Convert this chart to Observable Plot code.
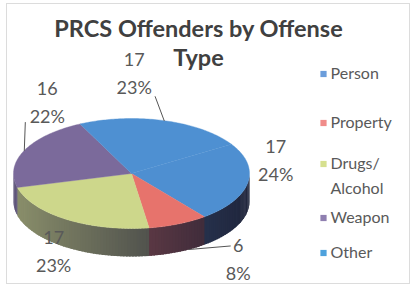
<!DOCTYPE html>
<html>
<head>
<meta charset="utf-8">
<script src="https://cdn.jsdelivr.net/npm/d3@7"></script>
<script src="https://cdn.jsdelivr.net/npm/@observablehq/plot@0.6"></script>
<style>
  html, body { margin: 0; padding: 0; background: #ffffff; }
  #chart svg { display: block; }
</style>
</head>
<body>
<div id="chart"></div>
<script>
// ---------------- data ----------------
const categories = ["Person", "Property", "Drugs/\nAlcohol", "Weapon", "Other"];
const values = [17, 6, 17, 16, 17];
const percentLabels = ["24%", "8%", "23%", "22%", "23%"];
const topColors = ["#4e8fd1", "#e7736c", "#cdd78b", "#7b6a9b", "#4e90d2"];
const legendColors = ["#6b9ddb", "#f08c8a", "#d6e08f", "#8f7fb0", "#4ea2dd"];
const titleLines = ["PRCS Offenders by Offense", "Type"];

// ---------------- layout ----------------
const W = 412, H = 286;
const cx = 131, cy = 173, rx = 118, ry = 55, depth = 28;
const firstAngle = 58 * Math.PI / 180;          // Excel "angle of first slice"
const shadowColor = "#1b1d30";
// label offsets from the slice's rim mid-point (best-fit placement)
const labelOffset = [[28, -2], [60, 56], [-13, 53], [23, -28], [-30, -27]];
const leaderEnd = [null, [-8, -34], null, [-22, 0], [21, 3]];
const legendFirstBaseline = [78, 127, 168, 222, 257];
const titleBaseline = [36, 65];

const deg = Math.PI / 180;
const pt = (a, dz = 0) => [cx + rx * Math.sin(a), cy - ry * Math.cos(a) + dz];

const data = categories.map((c, i) => ({
  i, category: c, value: values[i], pct: percentLabels[i],
  color: topColors[i], legend: legendColors[i]
}));

const arcs = d3.pie().sort(null).value(d => d.value)
  .startAngle(firstAngle).endAngle(firstAngle + 2 * Math.PI)(data);

// top faces
const topPts = [];
arcs.forEach(s => {
  topPts.push({k: s.data.i, x: cx, y: cy, fill: s.data.color});
  const n = Math.max(2, Math.ceil((s.endAngle - s.startAngle) / deg));
  for (let j = 0; j <= n; j++) {
    const a = s.startAngle + (s.endAngle - s.startAngle) * j / n;
    const [x, y] = pt(a);
    topPts.push({k: s.data.i, x, y, fill: s.data.color});
  }
});

// visible side wall (front half), shaded segment by segment
const sidePts = [];
let segId = 0;
arcs.forEach(s => {
  const a1 = Math.max(s.startAngle, Math.PI / 2);
  const a2 = Math.min(s.endAngle, 3 * Math.PI / 2);
  if (a2 <= a1) return;
  const n = Math.max(1, Math.ceil((a2 - a1) / (1.5 * deg)));
  for (let j = 0; j < n; j++) {
    const t1 = a1 + (a2 - a1) * j / n;
    const t2 = Math.min(a2 + 0.5 * deg, a1 + (a2 - a1) * (j + 1) / n + 0.8 * deg);
    const tm = (t1 + t2) / 2;
    const shade = 0.35 + 0.57 * (Math.sin(tm) + 1) / 2;
    const fill = d3.interpolateLab(s.data.color, shadowColor)(shade);
    const poly = [pt(t1), pt(t2), pt(t2, depth), pt(t1, depth)];
    poly.forEach(([x, y]) => sidePts.push({k: segId, x, y, fill}));
    segId++;
  }
});

// data labels
const labels = arcs.map(s => {
  const i = s.data.i;
  const mid = (s.startAngle + s.endAngle) / 2;
  const [rxp, ryp] = pt(mid);
  return {
    i, text: `${s.data.value}\n${s.data.pct}`,
    x: rxp + labelOffset[i][0], y: ryp + labelOffset[i][1],
    rimX: rxp, rimY: ryp, mid, start: s.startAngle, end: s.endAngle
  };
});
const leaders = [];
labels.forEach(l => {
  const e = leaderEnd[l.i];
  if (!e) return;
  const onSide = Math.cos(l.mid) < 0 && Math.abs(Math.sin(l.mid)) < 0.6;
  const [sx, sy] = onSide ? pt(l.start + 0.3 * (l.end - l.start), depth) : [l.rimX, l.rimY];
  leaders.push({k: l.i, x: sx, y: sy});
  leaders.push({k: l.i, x: l.x + e[0], y: l.y + e[1]});
});

// legend
const legendLineH = 25;
const legend = data.map((d, i) => {
  const lines = d.category.split("\n").length;
  return {
    text: d.category, color: d.legend,
    y0: legendFirstBaseline[i],
    yBottom: legendFirstBaseline[i] + (lines - 1) * legendLineH
  };
});

const title = titleLines.map((t, i) => ({text: t, y: titleBaseline[i]}));

const chart = Plot.plot({
  width: W, height: H,
  margin: 0,
  x: {domain: [0, W], range: [0, W], axis: null},
  y: {domain: [0, H], range: [0, H], axis: null},
  color: {type: "identity"},
  style: {fontFamily: "Lato, 'Open Sans', sans-serif", background: "#ffffff", overflow: "visible"},
  marks: [
    Plot.frame({stroke: "#dcdcdc", insetLeft: 6, insetTop: 3, insetRight: 3, insetBottom: 3}),
    Plot.line(sidePts, {x: "x", y: "y", z: "k", fill: "fill", stroke: null, curve: "linear-closed"}),
    Plot.line(topPts, {x: "x", y: "y", z: "k", fill: "fill", stroke: "fill", strokeWidth: 0.4, curve: "linear-closed"}),
    Plot.line(leaders, {x: "x", y: "y", z: "k", stroke: "#555555", strokeWidth: 1}),
    Plot.text(labels, {
      x: "x", y: "y", text: "text", fontSize: 18, fill: "#595959",
      lineAnchor: "bottom", lineHeight: 28 / 18, textAnchor: "middle"
    }),
    Plot.text(title, {
      x: 198, y: "y", text: "text", fontSize: 23.5, fontWeight: "bold", fill: "#404040",
      lineAnchor: "bottom", textAnchor: "middle"
    }),
    Plot.dot(legend, {x: 323, y: d => d.y0 - 4.5, symbol: "square", r: 3.5, fill: "color", stroke: null}),
    Plot.text(legend, {
      x: 330, y: "yBottom", text: "text", fontSize: 16, fill: "#595959",
      lineAnchor: "bottom", lineHeight: legendLineH / 16, textAnchor: "start"
    })
  ]
});
document.getElementById("chart").append(chart);
</script>
</body>
</html>
